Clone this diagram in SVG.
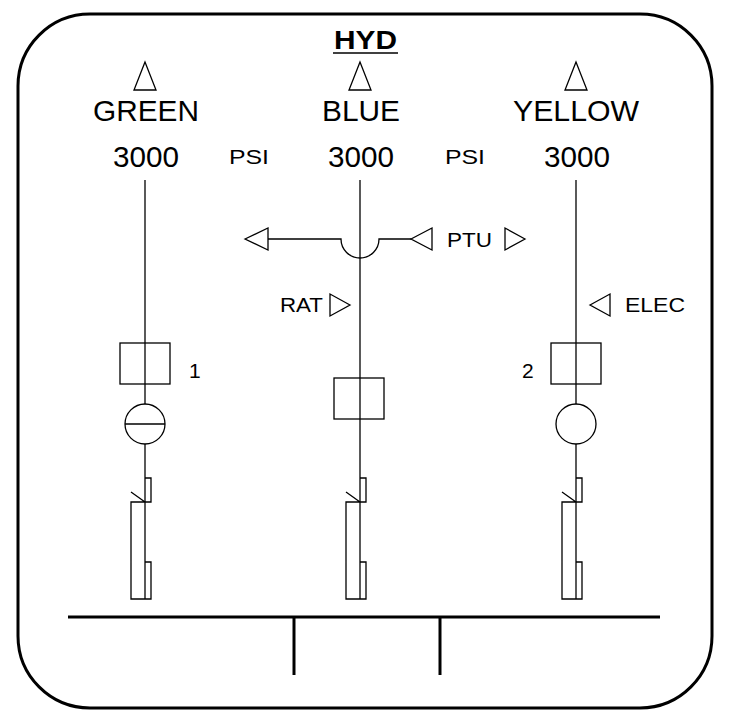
<svg xmlns="http://www.w3.org/2000/svg" width="730" height="722" viewBox="0 0 730 722">
<style>
.s{fill:none;stroke:#000;stroke-width:1.3}
.t{fill:none;stroke:#000;stroke-width:3}
.w{fill:#fff;stroke:#000;stroke-width:1.3}
text{font-family:"Liberation Sans",Arial,sans-serif;fill:#000}
.b{font-size:30px;text-anchor:middle}
.m{font-size:21px}
</style>
<rect x="18" y="14" width="694" height="694" rx="72" fill="#fff" stroke="#000" stroke-width="3"/>
<g id="title"><text x="334" y="49" font-size="26" font-weight="bold" textLength="63" lengthAdjust="spacingAndGlyphs">HYD</text><line x1="333" y1="53" x2="398" y2="53" stroke="#000" stroke-width="1.5"/></g>
<g id="connectors">
<line class="s" x1="145" y1="180" x2="145" y2="599"/>
<line class="s" x1="360" y1="180" x2="360" y2="599"/>
<line class="s" x1="576" y1="180" x2="576" y2="599"/>
<path class="s" d="M268 239H341A19 19 0 0 0 379 239H411"/>
<line class="t" x1="68" y1="617" x2="660" y2="617"/>
<line class="t" x1="294" y1="617" x2="294" y2="675"/>
<line class="t" x1="440" y1="617" x2="440" y2="675"/>
</g>
<g id="green">
<path class="s" d="M145 62L134 90H156Z"/>
<text class="b" x="146" y="121" textLength="106" lengthAdjust="spacingAndGlyphs">GREEN</text><text class="b" x="146" y="167" textLength="66" lengthAdjust="spacingAndGlyphs">3000</text>
<rect class="w" x="120" y="343" width="50" height="41"/><line class="s" x1="145" y1="343" x2="145" y2="384"/>
<text class="m" x="189" y="378">1</text>
<circle class="w" cx="145" cy="424" r="20"/><line class="s" x1="125" y1="424" x2="165" y2="424"/>
<path class="s" d="M145 478H151V502H131V599H151V562H145M131 492L145 502"/>
</g>
<g id="blue">
<path class="s" d="M360 62L349 90H371Z"/>
<text class="b" x="361" y="121" textLength="78" lengthAdjust="spacingAndGlyphs">BLUE</text><text class="b" x="361" y="167" textLength="66" lengthAdjust="spacingAndGlyphs">3000</text>
<path class="s" d="M245 239L268 228V250Z"/>
<path class="s" d="M411 239L432 228V250Z"/>
<text class="m" x="447" y="247" textLength="45" lengthAdjust="spacingAndGlyphs">PTU</text>
<path class="s" d="M525 239L505 228V250Z"/>
<text class="m" x="280" y="312" textLength="43" lengthAdjust="spacingAndGlyphs">RAT</text>
<path class="s" d="M350 305L330 294V316Z"/>
<rect class="w" x="334" y="378" width="50" height="41"/><line class="s" x1="360" y1="378" x2="360" y2="419"/>
<path class="s" d="M360 478H366V502H346V599H366V562H360M346 492L360 502"/>
</g>
<g id="yellow">
<path class="s" d="M576 62L565 90H587Z"/>
<text class="b" x="576" y="121" textLength="126" lengthAdjust="spacingAndGlyphs">YELLOW</text><text class="b" x="577" y="167" textLength="66" lengthAdjust="spacingAndGlyphs">3000</text>
<text class="m" x="229" y="164" textLength="40" lengthAdjust="spacingAndGlyphs">PSI</text><text class="m" x="445" y="164" textLength="40" lengthAdjust="spacingAndGlyphs">PSI</text>
<path class="s" d="M590 305L610 294V316Z"/>
<text class="m" x="625" y="312" textLength="60" lengthAdjust="spacingAndGlyphs">ELEC</text>
<rect class="w" x="551" y="343" width="50" height="41"/><line class="s" x1="576" y1="343" x2="576" y2="384"/>
<text class="m" x="522" y="378">2</text>
<circle class="w" cx="576" cy="424" r="20"/>
<path class="s" d="M576 478H582V502H562V599H582V562H576M562 492L576 502"/>
</g>
</svg>
